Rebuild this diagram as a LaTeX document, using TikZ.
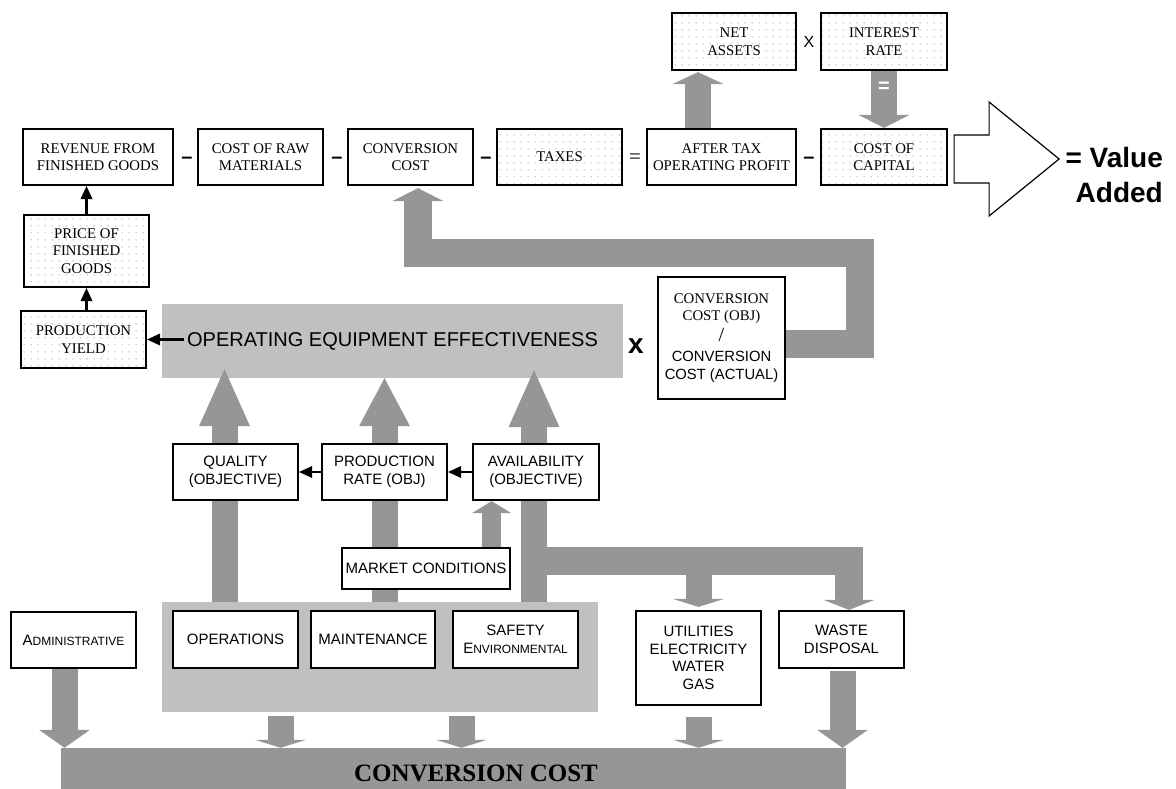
\documentclass[tikz,border=0pt]{standalone}
\usepackage{fontspec}
\setmainfont{Liberation Serif}
\setsansfont{Liberation Sans}
\usepackage{tikz}
\usetikzlibrary{calc,arrows.meta,patterns.meta}
\definecolor{pipeGrey}{HTML}{969696}
\definecolor{panelGrey}{HTML}{C0C0C0}
\definecolor{dotGrey}{HTML}{9A9A9A}
\pgfdeclarelayer{panels}
\pgfdeclarelayer{pipes}
\pgfsetlayers{panels,pipes,main}
\newcommand{\serifText}{\fontsize{14.8}{17.5}\selectfont\rmfamily}
\newcommand{\sansText}{\fontsize{15}{17.5}\selectfont\sffamily}
\newcommand{\capSmall}{\fontsize{12}{14}\selectfont}
\tikzdeclarepattern{
  name=boxdots,
  type=uncolored,
  bounding box={(0pt,0pt) and (7pt,7pt)},
  tile size={(7pt,7pt)},
  code={\tikzset{x=1pt,y=1pt}\fill (3.5,3.5) circle (0.75);}
}
\tikzset{
  valuebox/.style={rectangle, draw=black, line width=2.2pt, fill=white, align=center, inner sep=1pt, font=\serifText},
  dotbox/.style={valuebox, pattern=boxdots, pattern color=dotGrey},
  driverbox/.style={valuebox, font=\sansText},
  panel/.style={rectangle, fill=panelGrey, inner sep=0pt},
  fatarrow/.style={draw=pipeGrey, line width=26pt, line join=miter, -{Triangle[length=#1, width=51pt, line width=0pt]}},
  smallpipe/.style={draw=pipeGrey, line width=19pt, -{Triangle[length=#1, width=39pt, line width=0pt]}},
  thinarrow/.style={draw=black, line width=2.2pt, -{Triangle[length=13pt, width=12pt, line width=0pt]}},
  opsign/.style={font=\fontsize{20}{20}\selectfont\sffamily\bfseries, inner sep=0pt},
  eqsign/.style={font=\fontsize{20}{20}\selectfont\sffamily\bfseries, text=white, inner sep=0pt},
  valuelabel/.style={font=\fontsize{28}{35}\selectfont\sffamily\bfseries, align=right, inner sep=0pt},
}

\begin{document}
\begin{tikzpicture}[x=1pt,y=-1pt]
  \useasboundingbox (0,0) rectangle (1176,789);

  % shaded panels
  \begin{pgfonlayer}{panels}
    \node[panel, minimum width=461pt, minimum height=74pt, font=\fontsize{20}{24}\selectfont\sffamily] (oee) at (392.5,341) {OPERATING EQUIPMENT EFFECTIVENESS};
    \node[panel, minimum width=436pt, minimum height=110pt] (dept) at (380,657) {};
    \node[panel, fill=pipeGrey, minimum width=785pt, minimum height=41pt] (ccbar) at (453.5,768.5) {};
  \end{pgfonlayer}
  \node[font=\fontsize{25}{30}\selectfont\rmfamily\bfseries, inner sep=0pt] (cclabel) at ($(ccbar.center)+(22.5,5)$) {CONVERSION COST};

  % value chain
  \node[valuebox, minimum width=150pt, minimum height=56pt] (revenue) at (98,157) {REVENUE FROM\\FINISHED GOODS};
  \node[valuebox, minimum width=125pt, minimum height=56pt] (rawmat) at (260.5,157) {COST OF RAW\\MATERIALS};
  \node[valuebox, minimum width=125pt, minimum height=56pt] (conv) at (410.5,157) {CONVERSION\\COST};
  \node[dotbox, minimum width=125pt, minimum height=56pt] (taxes) at (559.5,157) {TAXES};
  \node[valuebox, minimum width=149pt, minimum height=56pt] (atax) at (721.5,157) {AFTER TAX\\OPERATING PROFIT};
  \node[dotbox, minimum width=126pt, minimum height=56pt] (capital) at (884,157) {COST OF\\CAPITAL};
  \node[dotbox, minimum width=124pt, minimum height=57pt] (netassets) at (734,41.5) {NET\\ASSETS};
  \node[dotbox, minimum width=126pt, minimum height=57pt] (interest) at (884,41.5) {INTEREST\\RATE};

  \node[opsign] (minus1) at (187,160) {–};
  \node[opsign] (minus2) at (337,160) {–};
  \node[opsign] (minus3) at (486,160) {–};
  \node[opsign] (minus4) at (809,160) {–};
  \node[font=\fontsize{21}{21}\selectfont\rmfamily, inner sep=0pt] (equals) at (635,159) {=};
  \node[font=\fontsize{16}{16}\selectfont\sffamily, inner sep=0pt] (times1) at (809,42) {X};

  \node[dotbox, minimum width=125pt, minimum height=72pt] (price) at (86.5,251) {PRICE OF\\FINISHED\\GOODS};
  \node[dotbox, minimum width=125pt, minimum height=57pt] (yield) at (83.5,339.5) {PRODUCTION\\YIELD};

  \node[font=\fontsize{28}{28}\selectfont\sffamily\bfseries, inner sep=0pt] (times2) at (636,346) {x};
  \node[valuebox, minimum width=127pt, minimum height=122pt] (cobj) at (721.5,338) {CONVERSION\\COST (OBJ)\\[3pt]{\fontsize{20}{20}\selectfont /}\\[3pt]\sffamily CONVERSION\\\sffamily COST (ACTUAL)};

  % drivers
  \node[driverbox, minimum width=125pt, minimum height=56pt] (quality) at (235.5,472) {QUALITY\\(OBJECTIVE)};
  \node[driverbox, minimum width=125pt, minimum height=56pt] (prate) at (384.5,472) {PRODUCTION\\RATE (OBJ)};
  \node[driverbox, minimum width=126pt, minimum height=56pt] (avail) at (536,472) {AVAILABILITY\\(OBJECTIVE)};
  \node[driverbox, minimum width=168pt, minimum height=41pt] (market) at (426,568.5) {MARKET CONDITIONS};

  \node[driverbox, minimum width=125pt, minimum height=56pt] (admin) at (73.5,640) {A{\capSmall DMINISTRATIVE}};
  \node[driverbox, minimum width=125pt, minimum height=57pt] (ops) at (235.5,639.5) {OPERATIONS};
  \node[driverbox, minimum width=124pt, minimum height=57pt] (maint) at (373,639.5) {MAINTENANCE};
  \node[driverbox, minimum width=125pt, minimum height=57pt] (safety) at (515.5,639.5) {SAFETY\\E{\capSmall NVIRONMENTAL}};
  \node[driverbox, minimum width=125pt, minimum height=94pt] (util) at (698.5,658) {UTILITIES\\ELECTRICITY\\WATER\\GAS};
  \node[driverbox, minimum width=125pt, minimum height=57pt] (waste) at (841.5,639.5) {WASTE\\DISPOSAL};

  % value added
  \draw[line width=1.2pt, fill=white, line join=miter] ($(capital.east)+(6,-22)$) -- ++(35,0) -- ++(0,-33) -- ++(70,57) -- ++(-70,57) -- ++(0,-33) -- ++(-35,0) -- cycle;
  \node[valuelabel, anchor=east] (valueadded) at (1163,175) {= Value\\Added};

  % thin links
  \draw[thinarrow] (price.north) -- (price.north |- revenue.south);
  \draw[thinarrow] (yield.north -| price.south) -- (price.south);
  \draw[thinarrow] ($(oee.west)+(22,-1.5)$) -- (yield.east);
  \draw[thinarrow] (prate.west) -- (quality.east);
  \draw[thinarrow] (avail.west) -- (prate.east);

  % fat pipes
  \begin{pgfonlayer}{pipes}
    \draw[fatarrow=57pt] ($(dept.north -| quality.south)+(-11,0)$) -- ($(oee.south -| quality.south)+(-11,-9)$);
    \draw[fatarrow=48pt] (dept.north -| prate.south) -- (oee.south -| prate.south);
    \draw[fatarrow=57pt] ($(dept.north -| avail.south)+(-2,0)$) -- ($(oee.south -| avail.south)+(-2,-8)$);
    \draw[fatarrow=10pt, line width=28pt] ($(avail.south)+(-2,60)$) -| ($(waste.north)+(7.5,0)$);
    \draw[fatarrow=8pt] ($(util.north)+(0,-36)$) -- ($(util.north)+(0,-3)$);
    \draw[smallpipe=12pt] ($(market.north east)+(-19.5,0)$) -- ($(market.north east |- avail.south)+(-19.5,0)$);
    \draw[fatarrow=13pt, line width=28pt] ($(cobj.east)+(0,6)$) -- ++(73.5,0) -- ++(0,-91.5) -| ($(conv.south)+(7.5,2)$);
    \draw[fatarrow=12pt] ($(atax.north)+(-23.5,0)$) -- ($(atax.north |- netassets.south)+(-23.5,1)$);
    \draw[fatarrow=13pt] (interest.south) -- (interest.south |- capital.north) node[eqsign, pos=0.29] (eqwhite) {=};
    \draw[fatarrow=18pt] ($(admin.south)+(-9,0)$) -- ($(admin.south |- ccbar.north)+(-9,0)$);
    \draw[fatarrow=8pt] ($(dept.south)+(-99.5,4)$) -- ($(dept.south |- ccbar.north)+(-99.5,0)$);
    \draw[fatarrow=8pt] ($(dept.south)+(81.5,4)$) -- ($(dept.south |- ccbar.north)+(81.5,0)$);
    \draw[fatarrow=8pt] ($(util.south)+(0,11)$) -- (util.south |- ccbar.north);
    \draw[fatarrow=18pt] ($(waste.south)+(1,2)$) -- ($(waste.south |- ccbar.north)+(1,0)$);
  \end{pgfonlayer}
\end{tikzpicture}
\end{document}
